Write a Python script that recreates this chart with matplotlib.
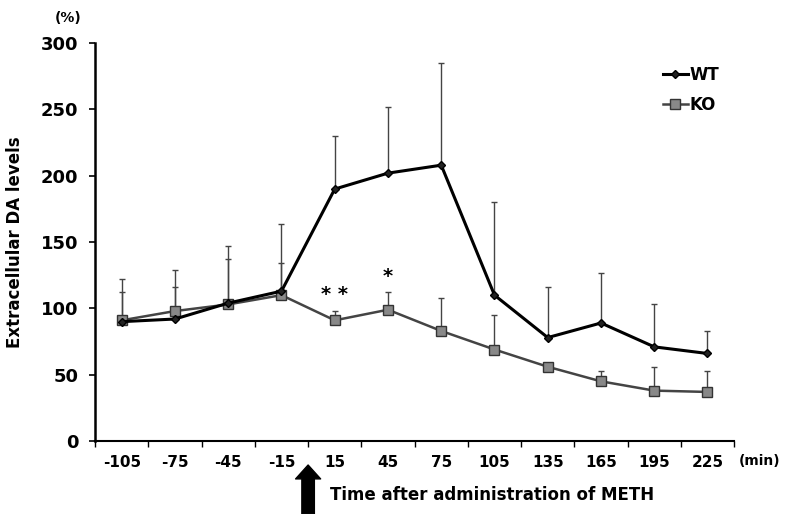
import matplotlib.pyplot as plt
import numpy as np

times = ['-105', '-75', '-45', '-15', '15', '45', '75', '105', '135', '165', '195', '225']
wt_mean = [90, 92, 104, 113, 190, 202, 208, 110, 78, 89, 71, 66]
wt_top = [122, 129, 147, 164, 230, 252, 285, 180, 116, 127, 103, 83]
ko_mean = [91, 98, 103, 110, 91, 99, 83, 69, 56, 45, 38, 37]
ko_top = [112, 116, 137, 134, 98, 112, 108, 95, 56, 53, 56, 53]

x = np.arange(len(times))
wt_err = [np.zeros(len(x)), np.array(wt_top) - np.array(wt_mean)]
ko_err = [np.zeros(len(x)), np.array(ko_top) - np.array(ko_mean)]

fig = plt.figure(figsize=(7.86, 5.14), dpi=100)
ax = fig.add_axes([0.121, 0.142, 0.813, 0.774])

# error bars first so the lines sit on top
ax.errorbar(x, wt_mean, yerr=wt_err, fmt='none', ecolor='#444444', elinewidth=1,
            capsize=2.5, capthick=1, zorder=2)
ax.errorbar(x, ko_mean, yerr=ko_err, fmt='none', ecolor='#444444', elinewidth=1,
            capsize=2.5, capthick=1, zorder=2)

ax.plot(x, ko_mean, color='#444444', lw=1.8, marker='s', markersize=7,
        markerfacecolor='#888888', markeredgecolor='#333333', label='KO', zorder=3)
ax.plot(x, wt_mean, color='black', lw=2.2, marker='D', markersize=4,
        markerfacecolor='#222222', markeredgecolor='black', label='WT', zorder=4)

ax.set_xlim(-0.5, len(times) - 0.5)
ax.set_ylim(0, 300)
ax.set_yticks([0, 50, 100, 150, 200, 250, 300])
ax.set_xticks(x)
ax.set_xticklabels(times)
ax.set_xticks(np.arange(-0.5, len(times)), minor=True)
ax.tick_params(axis='x', which='major', length=0, pad=10)
ax.tick_params(axis='x', which='minor', length=4, width=1, direction='out')
ax.tick_params(axis='y', length=4, width=1.2, pad=8)
for lab in ax.get_xticklabels():
    lab.set_fontweight('bold')
    lab.set_fontsize(11)
for lab in ax.get_yticklabels():
    lab.set_fontweight('bold')
    lab.set_fontsize(13)

ax.spines['top'].set_visible(False)
ax.spines['right'].set_visible(False)
ax.spines['left'].set_linewidth(1.8)
ax.spines['bottom'].set_linewidth(1.5)

ax.set_ylabel('Extracellular DA levels', fontsize=12, fontweight='bold', labelpad=12)
fig.text(0.087, 0.965, '(%)', fontsize=10, fontweight='bold', ha='center', va='center')
fig.text(0.967, 0.103, '(min)', fontsize=10, fontweight='bold', ha='center', va='center')

# significance stars
ax.text(4, 103, '* *', fontsize=14, fontweight='bold', ha='center', va='bottom')
ax.text(5, 117, '*', fontsize=14, fontweight='bold', ha='center', va='bottom')

# METH administration arrow and label
ax.annotate('', xy=(3.5, -16), xytext=(3.5, -57), xycoords='data', textcoords='data',
            arrowprops=dict(arrowstyle='simple,head_width=1.8,head_length=1.0,tail_width=0.9',
                            color='black'), annotation_clip=False)
fig.text(0.42, 0.037, 'Time after administration of METH', fontsize=12,
         fontweight='bold', ha='left', va='center')

handles, labels = ax.get_legend_handles_labels()
leg = ax.legend(handles[::-1], labels[::-1], loc='upper left', bbox_to_anchor=(0.865, 0.98),
                frameon=False, handlelength=1.5, handletextpad=0.1, labelspacing=0.7,
                prop={'weight': 'bold', 'size': 12})

fig.savefig('out.png', dpi=100)
